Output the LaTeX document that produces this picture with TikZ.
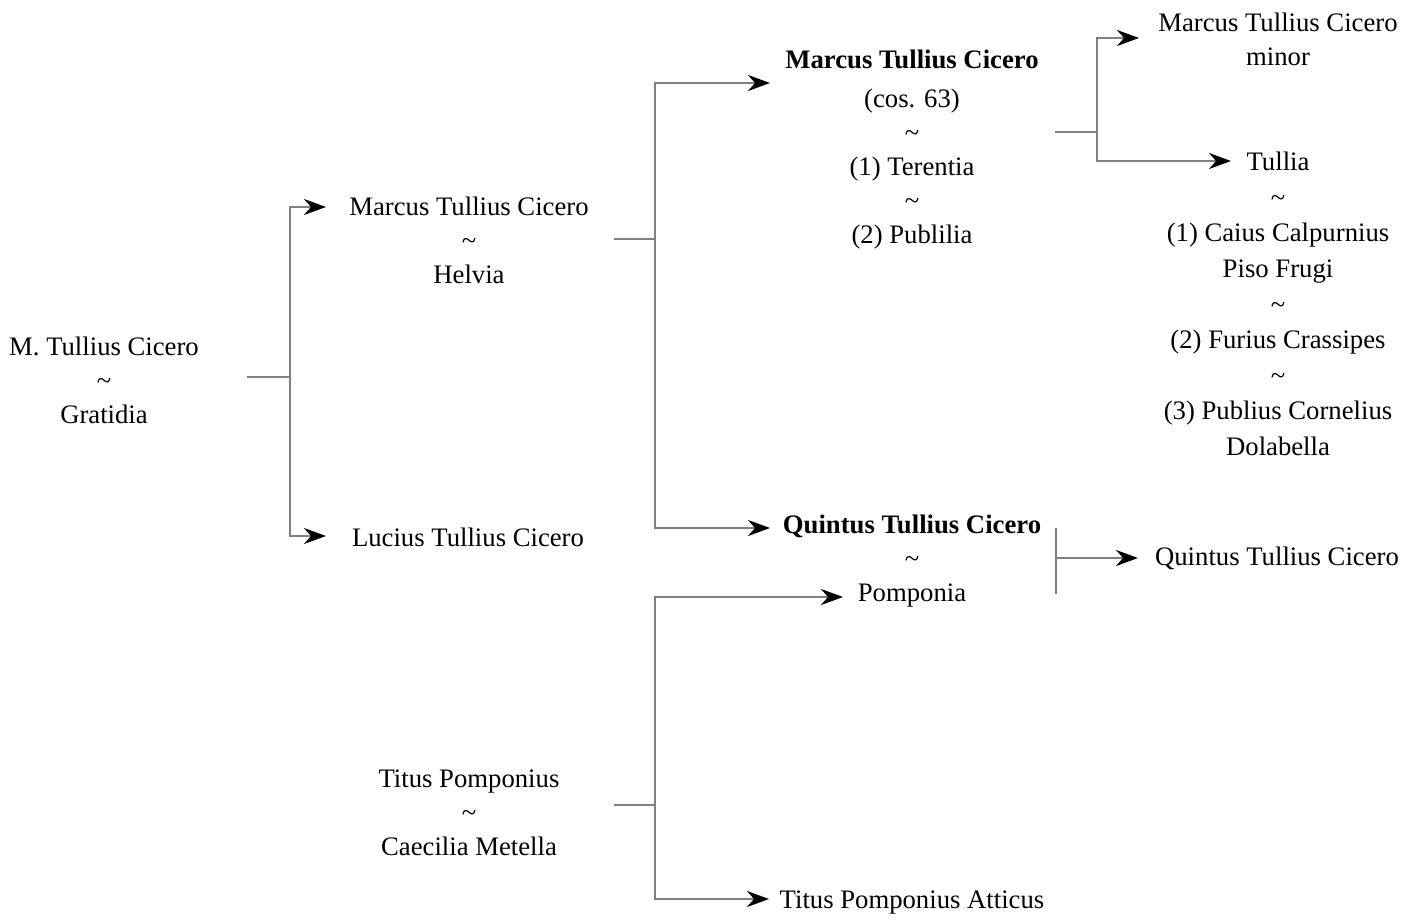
\documentclass[tikz,border=0pt]{standalone}
\usepackage{fontspec}
\setmainfont{Liberation Serif}
\usetikzlibrary{arrows.meta}
\definecolor{linegray}{RGB}{128,128,128}
\begin{document}
\begin{tikzpicture}[x=1pt,y=-1pt,
 txt/.style={align=center, font=\fontsize{26.7}{34}\selectfont, inner sep=0pt},
 conn/.style={draw=linegray, line width=2.2pt},
 arr/.style={conn, -{Stealth[color=black,length=22pt,width=16pt,inset=7pt]}}]
\useasboundingbox[fill=white] (0,0) rectangle (1420,920);

\node[txt] (gm) at (104,380) {M. Tullius Cicero\\\textasciitilde\\Gratidia};
\node[txt] (mh) at (469,240) {Marcus Tullius Cicero\\\textasciitilde\\Helvia};
\node[txt] (lu) at (468,537) {Lucius Tullius Cicero};
\node[txt] (mc) at (912,150) {\textbf{Marcus Tullius Cicero}\\[5pt](cos. 63)\\\textasciitilde\\(1) Terentia\\\textasciitilde\\(2) Publilia};
\node[txt] (mm) at (1278,39) {Marcus Tullius Cicero\\minor};
\node[txt, font=\fontsize{26.7}{35.6}\selectfont] (tu) at (1278,304) {Tullia\\\textasciitilde\\(1) Caius Calpurnius\\Piso Frugi\\\textasciitilde\\(2) Furius Crassipes\\\textasciitilde\\(3) Publius Cornelius\\Dolabella};
\node[txt] (qc) at (912,561) {\textbf{Quintus Tullius Cicero}\\\textasciitilde\\Pomponia};
\node[txt] (qm) at (1277,558) {Quintus Tullius Cicero};
\node[txt] (tp) at (469,813) {Titus Pomponius\\\textasciitilde\\Caecilia Metella};
\node[txt] (ta) at (912,902) {Titus Pomponius Atticus};

% M. Tullius Cicero ~ Gratidia
\coordinate (s1) at (247,377);
\coordinate (b1) at (290,377);
\coordinate (t1) at (326,207);
\coordinate (t2) at (326,536);
\draw[conn] (s1) -- (b1);
\draw[arr] (b1) |- (t1);
\draw[arr] (b1) |- (t2);

% Marcus ~ Helvia
\coordinate (s2) at (614,239);
\coordinate (b2) at (655,239);
\coordinate (t3) at (770,83);
\coordinate (t4) at (770,528);
\draw[conn] (s2) -- (b2);
\draw[arr] (b2) |- (t3);
\draw[arr] (b2) |- (t4);

% Marcus (cos. 63)
\coordinate (s3) at (1055,132);
\coordinate (b3) at (1097,132);
\coordinate (t5) at (1139,38);
\coordinate (t6) at (1231,161);
\draw[conn] (s3) -- (b3);
\draw[arr] (b3) |- (t5);
\draw[arr] (b3) |- (t6);

% Quintus ~ Pomponia
\coordinate (q1) at (1056,528);
\coordinate (q2) at (1056,594);
\coordinate (q3) at (1056,558);
\coordinate (t9) at (1138,558);
\draw[conn] (q1) -- (q2);
\draw[arr] (q3) -- (t9);

% Titus Pomponius ~ Caecilia Metella
\coordinate (s4) at (614,805);
\coordinate (b4) at (655,805);
\coordinate (t7) at (843,597);
\coordinate (t8) at (769,899);
\draw[conn] (s4) -- (b4);
\draw[arr] (b4) |- (t7);
\draw[arr] (b4) |- (t8);
\end{tikzpicture}
\end{document}
